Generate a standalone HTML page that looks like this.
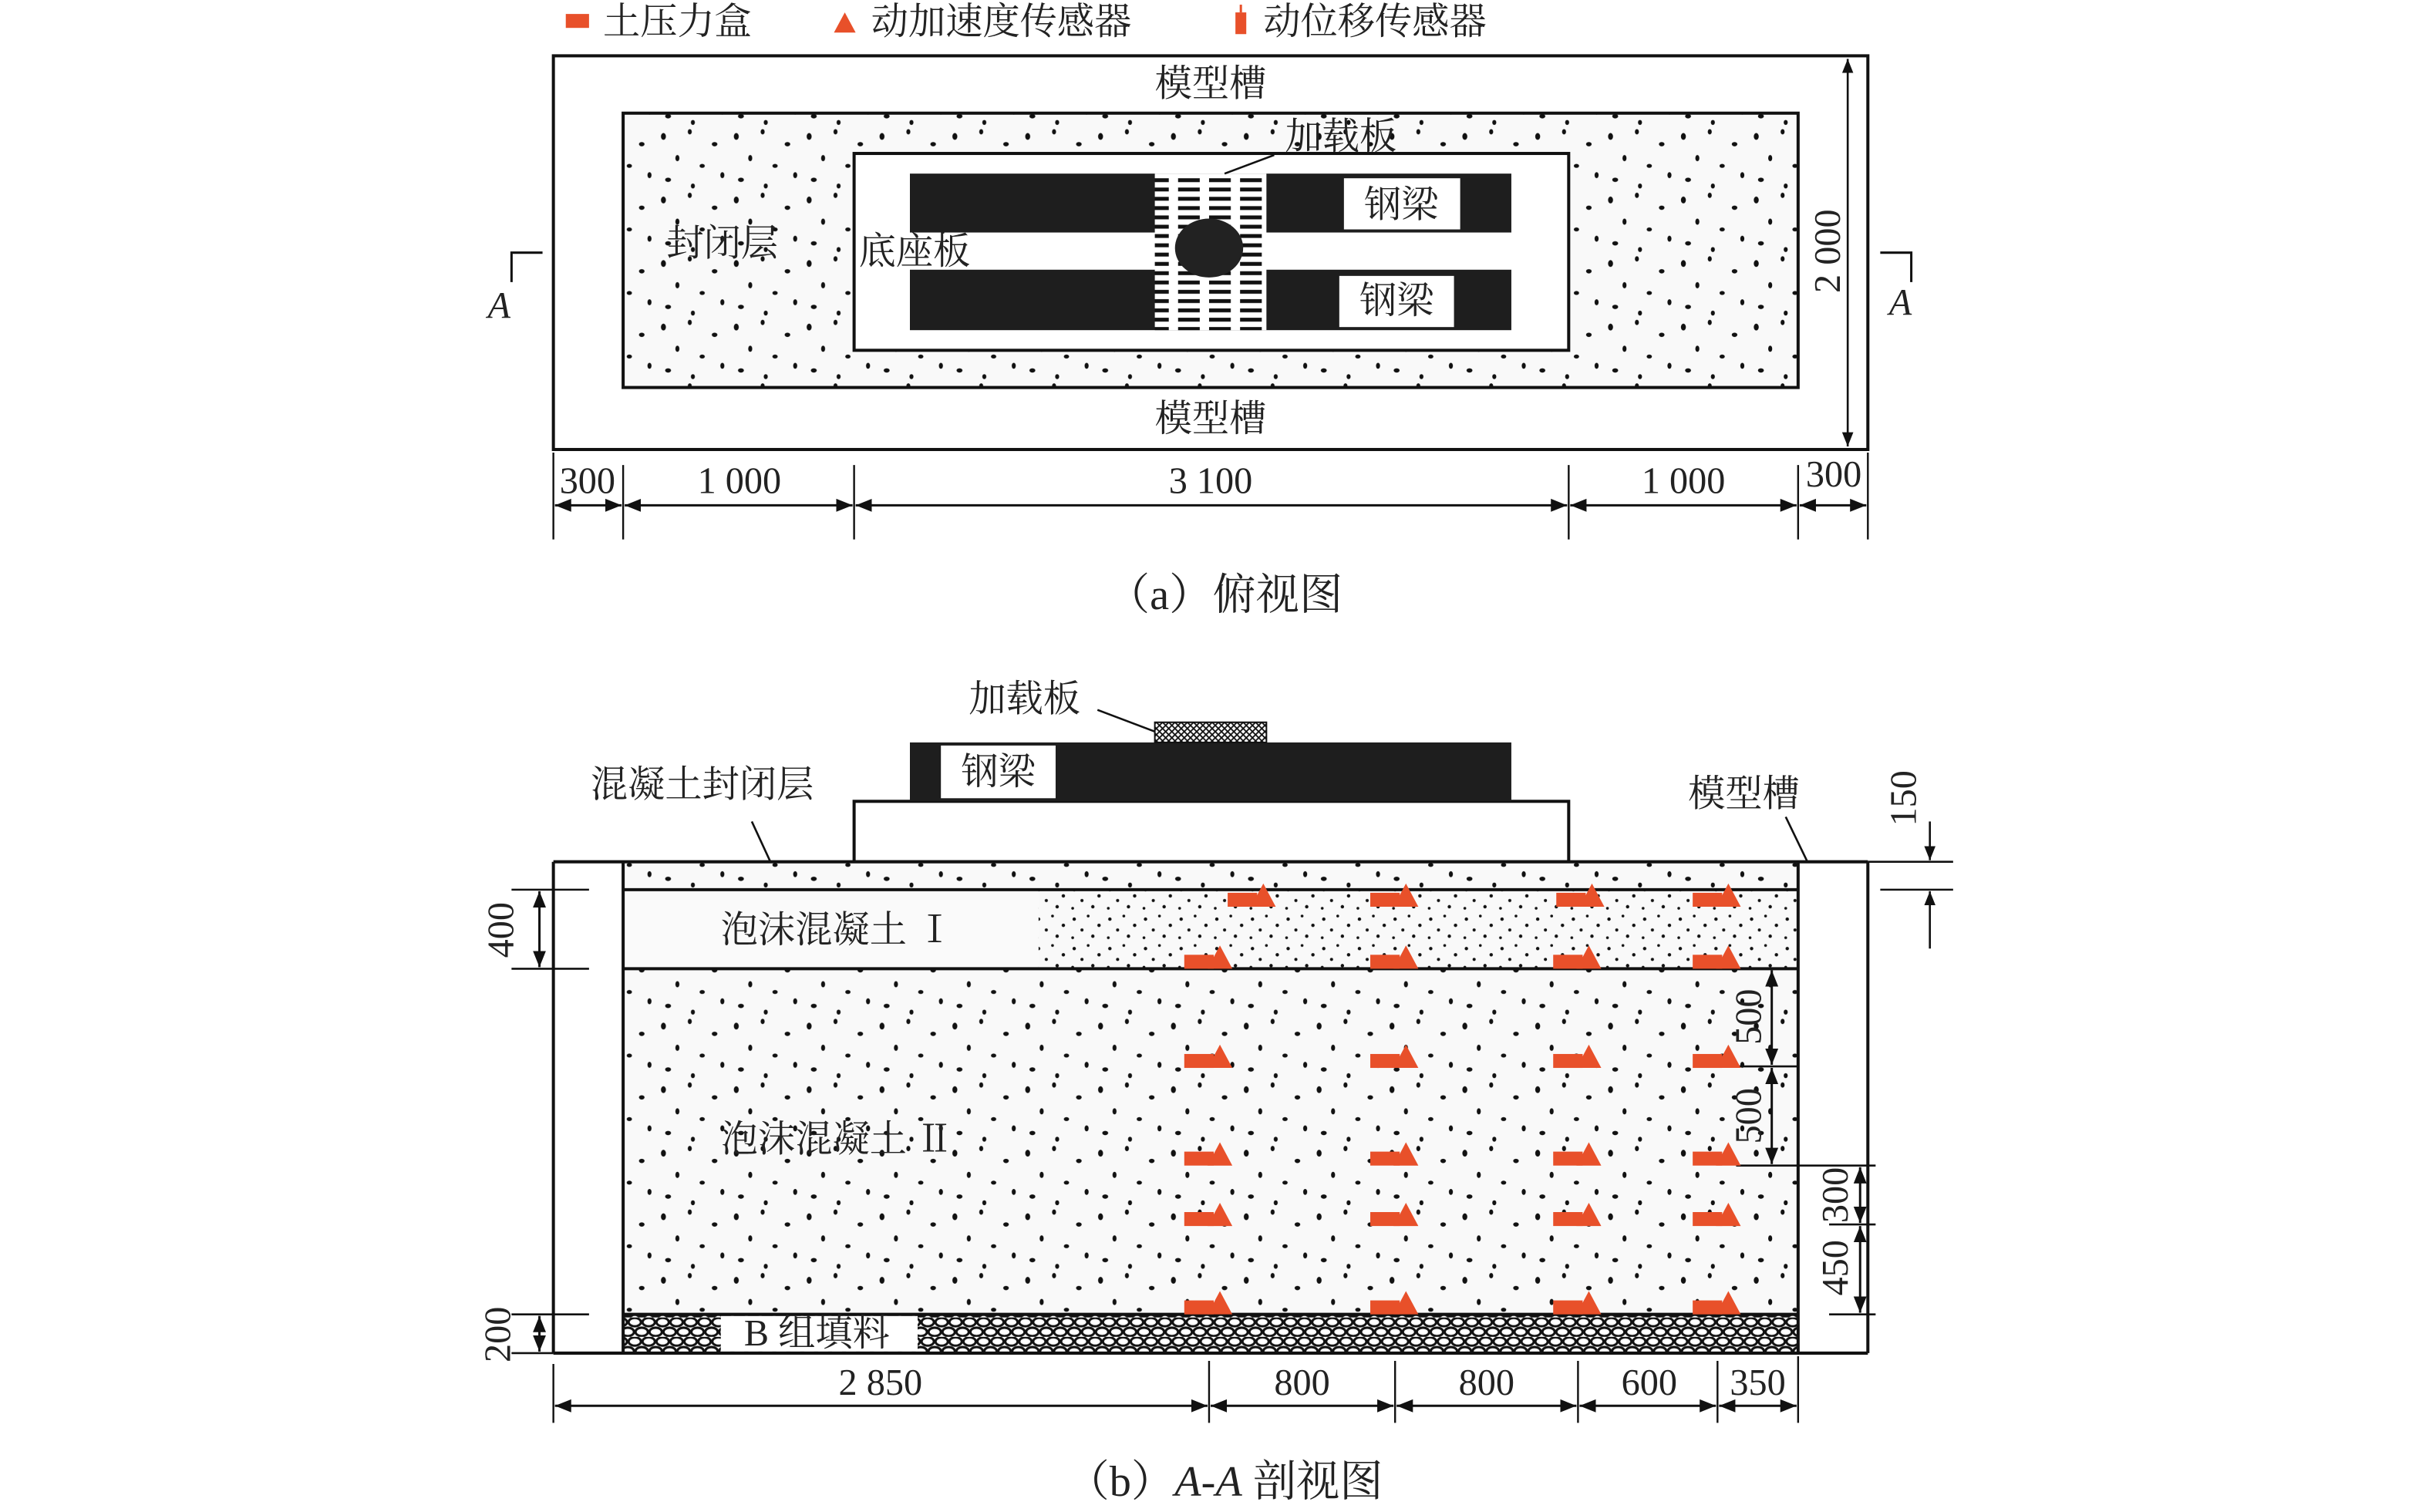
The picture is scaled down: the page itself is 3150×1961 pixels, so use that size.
<!DOCTYPE html>
<html><head><meta charset="utf-8"><style>
html,body{margin:0;padding:0;background:#fff;}
svg{display:block;}
text{font-family:"Liberation Serif","Noto Serif CJK SC",serif;fill:#222;}
</style></head><body>
<svg width="3150" height="1961" viewBox="0 0 1567 975.5" xmlns="http://www.w3.org/2000/svg">
<defs>
<pattern id="dots" width="47" height="41" patternUnits="userSpaceOnUse">
<rect width="47" height="41" fill="#f9f9f9"/>
<g fill="#111">
<ellipse cx="5" cy="6" rx="1.6" ry="2.2"/><ellipse cx="22" cy="3" rx="1.3" ry="1.7"/>
<ellipse cx="38" cy="11" rx="1.8" ry="1.4"/><ellipse cx="14" cy="20" rx="1.3" ry="2"/>
<ellipse cx="30" cy="25" rx="1.7" ry="1.3"/><ellipse cx="43" cy="31" rx="1.3" ry="1.9"/>
<ellipse cx="8" cy="34" rx="1.9" ry="1.4"/><ellipse cx="24" cy="38" rx="1.3" ry="1.6"/>
</g></pattern>
<pattern id="dense" width="23" height="19" patternUnits="userSpaceOnUse">
<rect width="23" height="19" fill="#f9f9f9"/>
<g fill="#111">
<circle cx="3" cy="4" r="1.1"/><circle cx="12" cy="2" r="0.9"/><circle cx="19" cy="8" r="1.1"/>
<circle cx="8" cy="11" r="1"/><circle cx="15" cy="15" r="1.1"/><circle cx="2" cy="16" r="0.9"/>
</g></pattern>
<pattern id="gravel" width="18" height="12.5" patternUnits="userSpaceOnUse">
<rect width="18" height="12.5" fill="#fff"/>
<g fill="none" stroke="#111" stroke-width="1.5">
<ellipse cx="4.5" cy="3" rx="4" ry="2.7"/><ellipse cx="13.5" cy="3" rx="4" ry="2.7"/>
<ellipse cx="9" cy="9.3" rx="4" ry="2.7"/><ellipse cx="0" cy="9.3" rx="4" ry="2.7"/><ellipse cx="18" cy="9.3" rx="4" ry="2.7"/>
</g></pattern>
<pattern id="hatchH" width="20" height="6" patternUnits="userSpaceOnUse">
<rect width="20" height="6" fill="#fff"/><rect x="0" y="1" width="14" height="2.5" fill="#111"/></pattern>
<pattern id="cross" width="4" height="4" patternUnits="userSpaceOnUse">
<rect width="4" height="4" fill="#fff"/><path d="M0 0L4 4M4 0L0 4" stroke="#111" stroke-width="0.9"/></pattern>
<marker id="ar" viewBox="0 0 10 10" refX="10" refY="5" markerWidth="7" markerHeight="7" orient="auto-start-reverse"><path d="M0 1L10 5L0 9z" fill="#111"/></marker>
<g id="sen"><rect x="-16" y="-9" width="19" height="9" fill="#e8502a"/><path d="M-1 0L7 -15L15 0z" fill="#e8502a"/></g>
</defs>

<!-- legend -->
<rect x="365" y="9" width="15" height="9" fill="#e8502a"/>
<text x="389" y="22" font-size="24">土压力盒</text>
<path d="M538 21L545 8L552 21z" fill="#e8502a"/>
<text x="562" y="22" font-size="24">动加速度传感器</text>
<rect x="797" y="8" width="7" height="14" fill="#e8502a"/><line x1="800.5" y1="3" x2="800.5" y2="8" stroke="#e8502a" stroke-width="1.5"/>
<text x="815" y="22" font-size="24">动位移传感器</text>

<!-- top view -->
<rect x="357" y="36" width="848" height="254" fill="#fff" stroke="#111" stroke-width="2"/>
<rect x="402" y="73" width="758" height="177" fill="url(#dots)" stroke="#111" stroke-width="2"/>
<rect x="551" y="99" width="461" height="127" fill="#fff" stroke="#111" stroke-width="2"/>
<rect x="587" y="112" width="388" height="38" fill="#1e1e1e"/>
<rect x="587" y="174" width="388" height="39" fill="#1e1e1e"/>
<rect x="745" y="112" width="72" height="101" fill="url(#hatchH)"/>
<ellipse cx="780" cy="160" rx="22" ry="19" fill="#222"/>
<rect x="867" y="115" width="75" height="33" fill="#fff"/>
<text x="904" y="140" font-size="24" text-anchor="middle">钢梁</text>
<rect x="864" y="178" width="74" height="33" fill="#fff"/>
<text x="901" y="202" font-size="24" text-anchor="middle">钢梁</text>
<text x="781" y="62" font-size="24" text-anchor="middle">模型槽</text>
<text x="781" y="278" font-size="24" text-anchor="middle">模型槽</text>
<text x="865" y="96" font-size="24" text-anchor="middle">加载板</text>
<line x1="822" y1="100" x2="790" y2="112" stroke="#111" stroke-width="1.3"/>
<text x="466" y="165" font-size="24" text-anchor="middle">封闭层</text>
<text x="590" y="170" font-size="24" text-anchor="middle">底座板</text>
<path d="M350 163H330V182" fill="none" stroke="#111" stroke-width="1.5"/>
<path d="M1213 163H1233V182" fill="none" stroke="#111" stroke-width="1.5"/>
<text x="322" y="205" font-size="24" font-style="italic" text-anchor="middle">A</text>
<text x="1226" y="203" font-size="24" font-style="italic" text-anchor="middle">A</text>
<line x1="1192" y1="38" x2="1192" y2="288" stroke="#111" stroke-width="1.3" marker-start="url(#ar)" marker-end="url(#ar)"/>
<text transform="translate(1187,162) rotate(-90)" font-size="24" text-anchor="middle">2 000</text>
<g stroke="#111" stroke-width="1.2">
<line x1="357" y1="292" x2="357" y2="348"/><line x1="402" y1="300" x2="402" y2="348"/>
<line x1="551" y1="300" x2="551" y2="348"/><line x1="1012" y1="300" x2="1012" y2="348"/>
<line x1="1160" y1="300" x2="1160" y2="348"/><line x1="1205" y1="292" x2="1205" y2="348"/>
</g>
<g stroke="#111" stroke-width="1.5" marker-start="url(#ar)" marker-end="url(#ar)">
<line x1="358" y1="326" x2="401" y2="326"/><line x1="403" y1="326" x2="550" y2="326"/>
<line x1="552" y1="326" x2="1011" y2="326"/><line x1="1013" y1="326" x2="1159" y2="326"/>
<line x1="1161" y1="326" x2="1204" y2="326"/>
</g>
<g font-size="24" text-anchor="middle">
<text x="379" y="318">300</text><text x="477" y="318">1 000</text><text x="781" y="318">3 100</text>
<text x="1086" y="318">1 000</text><text x="1183" y="314">300</text>
</g>
<text x="790" y="393" font-size="28" text-anchor="middle">（a）俯视图</text>

<!-- section view -->
<rect x="551" y="517" width="461" height="39" fill="#fff" stroke="#111" stroke-width="2"/>
<rect x="587" y="479" width="388" height="38" fill="#1e1e1e"/>
<rect x="607" y="481" width="74" height="34" fill="#fff"/>
<text x="644" y="506" font-size="24" text-anchor="middle">钢梁</text>
<rect x="745" y="466" width="72" height="13" fill="url(#cross)" stroke="#111" stroke-width="1"/>
<text x="661" y="459" font-size="24" text-anchor="middle">加载板</text>
<line x1="708" y1="458" x2="745" y2="472" stroke="#111" stroke-width="1.3"/>
<text x="453" y="514" font-size="24" text-anchor="middle">混凝土封闭层</text>
<line x1="485" y1="530" x2="497" y2="556" stroke="#111" stroke-width="1.3"/>
<text x="1125" y="520" font-size="24" text-anchor="middle">模型槽</text>
<line x1="1152" y1="527" x2="1166" y2="556" stroke="#111" stroke-width="1.3"/>

<rect x="402" y="556" width="758" height="18" fill="url(#dots)"/>
<rect x="402" y="574" width="758" height="51" fill="#fafafa"/>
<rect x="670" y="574" width="490" height="51" fill="url(#dense)"/>
<rect x="402" y="625" width="758" height="223" fill="url(#dots)"/>
<rect x="402" y="848" width="758" height="25" fill="url(#gravel)"/>
<rect x="465" y="849" width="127" height="23" fill="#fff"/>

<g stroke="#111" stroke-width="2" fill="none">
<line x1="357" y1="556" x2="1205" y2="556"/>
<line x1="357" y1="556" x2="357" y2="873"/><line x1="402" y1="556" x2="402" y2="873"/>
<line x1="1160" y1="556" x2="1160" y2="873"/><line x1="1205" y1="556" x2="1205" y2="873"/>
<line x1="357" y1="873" x2="1205" y2="873"/>
<line x1="402" y1="574" x2="1160" y2="574"/>
<line x1="402" y1="625" x2="1160" y2="625"/>
<line x1="402" y1="848" x2="1160" y2="848"/>
</g>
<g stroke="#111" stroke-width="1.3">
<line x1="330" y1="574" x2="380" y2="574"/><line x1="330" y1="625" x2="380" y2="625"/>
<line x1="330" y1="848" x2="380" y2="848"/><line x1="330" y1="873" x2="357" y2="873"/>
<line x1="1205" y1="556" x2="1260" y2="556"/><line x1="1213" y1="574" x2="1260" y2="574"/>
<line x1="1120" y1="688" x2="1160" y2="688"/><line x1="1120" y1="752" x2="1210" y2="752"/>
<line x1="1180" y1="790" x2="1210" y2="790"/><line x1="1180" y1="848" x2="1210" y2="848"/>
<line x1="1245" y1="530" x2="1245" y2="555" marker-end="url(#ar)"/>
<line x1="1245" y1="612" x2="1245" y2="575" marker-end="url(#ar)"/>
</g>
<g stroke="#111" stroke-width="1.5" marker-start="url(#ar)" marker-end="url(#ar)">
<line x1="348" y1="575" x2="348" y2="624"/><line x1="348" y1="849" x2="348" y2="872"/>
<line x1="1143" y1="626" x2="1143" y2="687"/><line x1="1143" y1="689" x2="1143" y2="751"/>
<line x1="1200" y1="753" x2="1200" y2="789"/><line x1="1200" y1="791" x2="1200" y2="847"/>
</g>
<g font-size="24" text-anchor="middle">
<text transform="translate(331,600) rotate(-90)">400</text>
<text transform="translate(329,861) rotate(-90)">200</text>
<text transform="translate(1236,515) rotate(-90)">150</text>
<text transform="translate(1136,656) rotate(-90)">500</text>
<text transform="translate(1136,720) rotate(-90)">500</text>
<text transform="translate(1192,771) rotate(-90)">300</text>
<text transform="translate(1192,818) rotate(-90)">450</text>
</g>
<text x="540" y="608" font-size="24" text-anchor="middle">泡沫混凝土 Ⅰ</text>
<text x="540" y="743" font-size="24" text-anchor="middle">泡沫混凝土 Ⅱ</text>
<text x="527" y="868" font-size="24" text-anchor="middle">B 组填料</text>

<!-- sensors -->
<use href="#sen" x="808" y="585"/><use href="#sen" x="900" y="585"/><use href="#sen" x="1020" y="585"/><use href="#sen" x="1108" y="585"/>
<g>
<use href="#sen" x="780" y="625"/><use href="#sen" x="900" y="625"/><use href="#sen" x="1018" y="625"/><use href="#sen" x="1108" y="625"/>
<use href="#sen" x="780" y="689"/><use href="#sen" x="900" y="689"/><use href="#sen" x="1018" y="689"/><use href="#sen" x="1108" y="689"/>
<use href="#sen" x="780" y="752"/><use href="#sen" x="900" y="752"/><use href="#sen" x="1018" y="752"/><use href="#sen" x="1108" y="752"/>
<use href="#sen" x="780" y="791"/><use href="#sen" x="900" y="791"/><use href="#sen" x="1018" y="791"/><use href="#sen" x="1108" y="791"/>
<use href="#sen" x="780" y="848"/><use href="#sen" x="900" y="848"/><use href="#sen" x="1018" y="848"/><use href="#sen" x="1108" y="848"/>
</g>

<!-- bottom dims -->
<g stroke="#111" stroke-width="1.2">
<line x1="357" y1="880" x2="357" y2="918"/><line x1="780" y1="878" x2="780" y2="918"/>
<line x1="900" y1="878" x2="900" y2="918"/><line x1="1018" y1="878" x2="1018" y2="918"/>
<line x1="1108" y1="878" x2="1108" y2="918"/><line x1="1160" y1="875" x2="1160" y2="918"/>
</g>
<g stroke="#111" stroke-width="1.5" marker-start="url(#ar)" marker-end="url(#ar)">
<line x1="358" y1="907" x2="779" y2="907"/><line x1="781" y1="907" x2="899" y2="907"/>
<line x1="901" y1="907" x2="1017" y2="907"/><line x1="1019" y1="907" x2="1107" y2="907"/>
<line x1="1109" y1="907" x2="1159" y2="907"/>
</g>
<g font-size="24" text-anchor="middle">
<text x="568" y="900">2 850</text><text x="840" y="900">800</text><text x="959" y="900">800</text>
<text x="1064" y="900">600</text><text x="1134" y="900">350</text>
</g>
<text x="790" y="965" font-size="28" text-anchor="middle">（b）<tspan font-style="italic">A</tspan>-<tspan font-style="italic">A</tspan> 剖视图</text>
</svg>
</body></html>
